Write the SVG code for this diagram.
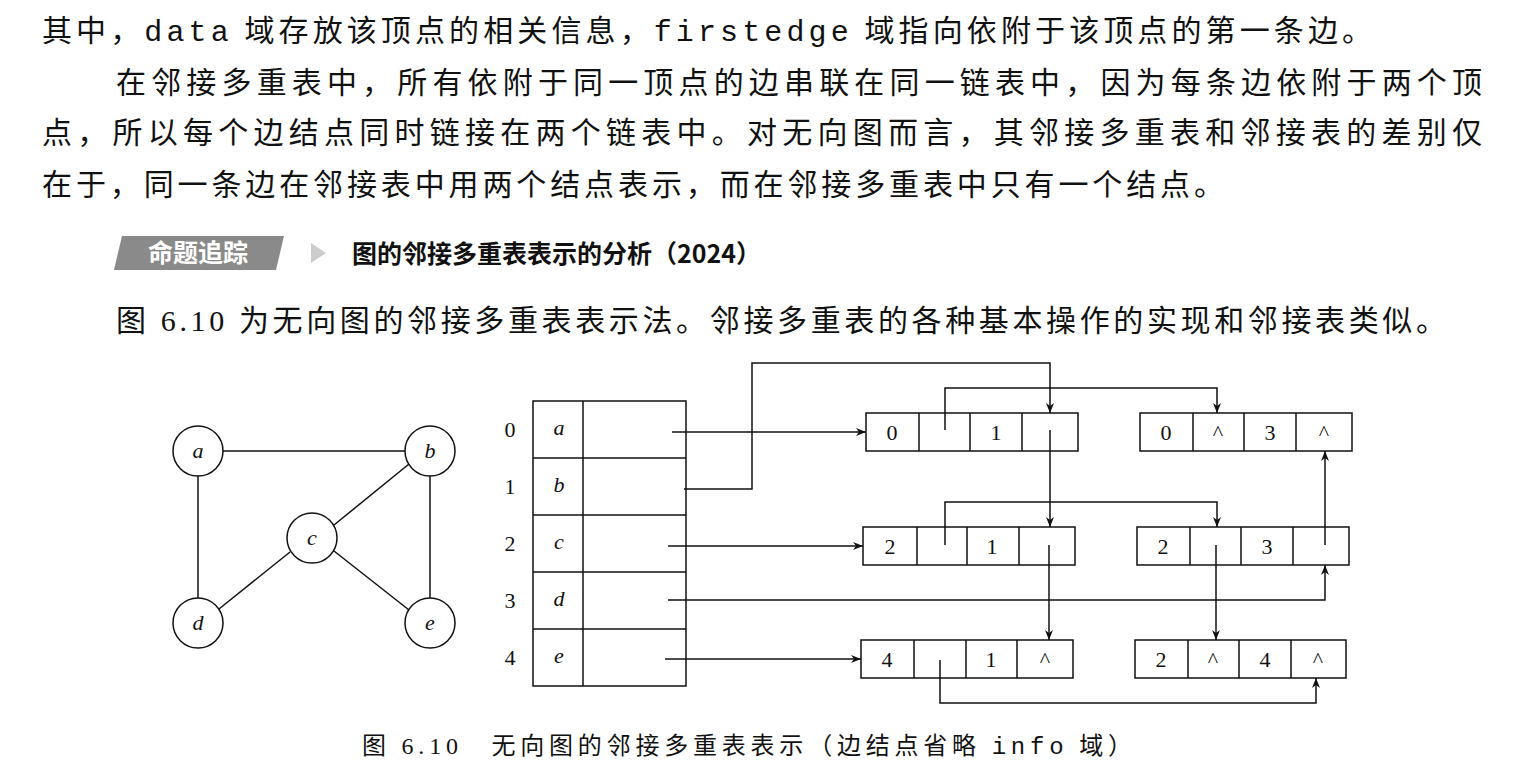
<svg xmlns="http://www.w3.org/2000/svg" width="1525" height="772" viewBox="0 0 1525 772">
<style>
.t{font-family:"Liberation Serif","Noto Sans CJK SC",serif;font-size:30px;fill:#111}
.m{font-family:"Liberation Mono",monospace}
.h{font-family:"Noto Sans CJK SC",sans-serif;font-size:25px;fill:#111}
.c{font-family:"Liberation Serif","Noto Sans CJK SC",serif;font-size:24px;fill:#111}
.n{font-family:"Liberation Serif",serif;font-size:22px;fill:#111;text-anchor:middle}
.i{font-style:italic}
.b{fill:#fff;stroke:#111;stroke-width:1.5}
.l{fill:none;stroke:#111;stroke-width:1.5}
</style>
<defs><marker id="ar" markerWidth="10" markerHeight="8" refX="10" refY="4" orient="auto" markerUnits="userSpaceOnUse"><path d="M0,0 L10,4 L0,8 L3,4z" fill="#111"/></marker></defs>
<text class="t" x="42" y="41" textLength="1330">其中，<tspan class="m">data</tspan> 域存放该顶点的相关信息，<tspan class="m">firstedge</tspan> 域指向依附于该顶点的第一条边。</text>
<text class="t" x="116" y="93" textLength="1366">在邻接多重表中，所有依附于同一顶点的边串联在同一链表中，因为每条边依附于两个顶</text>
<text class="t" x="42" y="143" textLength="1440">点，所以每个边结点同时链接在两个链表中。对无向图而言，其邻接多重表和邻接表的差别仅</text>
<text class="t" x="42" y="195" textLength="1182">在于，同一条边在邻接表中用两个结点表示，而在邻接多重表中只有一个结点。</text>
<g id="tag"><path d="M122,236 L284,236 L276,270 L114,270 Z" fill="#8a8a8a"/>
<text x="198" y="262" font-family="Noto Sans CJK SC,sans-serif" font-size="25" font-weight="bold" fill="#fff" text-anchor="middle">命题追踪</text>
<path d="M311,243 L326,253 L311,263 Z" fill="#ccc"/></g>
<text class="h" x="352" y="263" font-weight="bold">图的邻接多重表表示的分析（2024）</text>
<text class="t" x="116" y="331" textLength="1330">图 6.10 为无向图的邻接多重表表示法。邻接多重表的各种基本操作的实现和邻接表类似。</text>
<g id="graph">
<g class="l"><line x1="223" y1="451" x2="405" y2="451"/><line x1="198" y1="476" x2="198" y2="598"/><line x1="430" y1="476" x2="430" y2="598"/><line x1="334" y1="525" x2="409" y2="464"/><line x1="290" y1="552" x2="219" y2="609"/><line x1="334" y1="551" x2="409" y2="610"/></g>
<g id="va"><circle class="b" cx="198" cy="451" r="25"/><text class="n i" x="198" y="458">a</text></g>
<g id="vb"><circle class="b" cx="430" cy="451" r="25"/><text class="n i" x="430" y="458">b</text></g>
<g id="vc"><circle class="b" cx="312" cy="538" r="25"/><text class="n i" x="312" y="545">c</text></g>
<g id="vd"><circle class="b" cx="198" cy="623" r="25"/><text class="n i" x="198" y="630">d</text></g>
<g id="ve"><circle class="b" cx="430" cy="623" r="25"/><text class="n i" x="430" y="630">e</text></g>
</g>
<g id="table">
<rect class="b" x="533" y="401" width="153" height="285"/>
<g class="l"><line x1="583" y1="401" x2="583" y2="686"/><line x1="533" y1="458" x2="686" y2="458"/><line x1="533" y1="515" x2="686" y2="515"/><line x1="533" y1="572" x2="686" y2="572"/><line x1="533" y1="629" x2="686" y2="629"/></g>
<text class="n" x="510" y="437">0</text><text class="n" x="510" y="494">1</text><text class="n" x="510" y="551">2</text><text class="n" x="510" y="608">3</text><text class="n" x="510" y="665">4</text>
<text class="n i" x="559" y="435">a</text><text class="n i" x="559" y="492">b</text><text class="n i" x="559" y="549">c</text><text class="n i" x="559" y="606">d</text><text class="n i" x="559" y="663">e</text>
</g>
<g id="e00"><rect class="b" x="866" y="413" width="212" height="38"/><path class="l" d="M919,413V451M970,413V451M1022,413V451"/><text class="n" x="892" y="440">0</text><text class="n" x="996" y="440">1</text></g>
<g id="e03"><rect class="b" x="1140" y="413" width="212" height="38"/><path class="l" d="M1193,413V451M1244,413V451M1296,413V451"/><text class="n" x="1166" y="440">0</text><text class="n" x="1218" y="440">^</text><text class="n" x="1270" y="440">3</text><text class="n" x="1324" y="440">^</text></g>
<g id="e21"><rect class="b" x="863" y="527" width="212" height="38"/><path class="l" d="M917,527V565M967,527V565M1019,527V565"/><text class="n" x="890" y="554">2</text><text class="n" x="992" y="554">1</text></g>
<g id="e23"><rect class="b" x="1137" y="527" width="212" height="38"/><path class="l" d="M1190,527V565M1241,527V565M1293,527V565"/><text class="n" x="1163" y="554">2</text><text class="n" x="1267" y="554">3</text></g>
<g id="e41"><rect class="b" x="861" y="640" width="212" height="38"/><path class="l" d="M914,640V678M966,640V678M1017,640V678"/><text class="n" x="887" y="667">4</text><text class="n" x="991" y="667">1</text><text class="n" x="1045" y="667">^</text></g>
<g id="e24"><rect class="b" x="1135" y="640" width="211" height="38"/><path class="l" d="M1188,640V678M1239,640V678M1291,640V678"/><text class="n" x="1161" y="667">2</text><text class="n" x="1213" y="667">^</text><text class="n" x="1265" y="667">4</text><text class="n" x="1318" y="667">^</text></g>
<g id="connectors" class="l" marker-end="url(#ar)">
<path d="M672,432H866"/><path d="M668,546H863"/><path d="M665,659H861"/>
<path d="M684,489H752V363H1050V413"/>
<path d="M945,430V388H1217V413"/>
<path d="M1050,430V527"/>
<path d="M945,545V502H1217V527"/>
<path d="M1049,545V640"/>
<path d="M1216,545V640"/>
<path d="M1325,545V451"/>
<path d="M668,600H1325V565"/>
<path d="M940,660V703H1316V678"/>
</g>
<text class="c" x="362" y="754" textLength="770">图 6.10　无向图的邻接多重表表示（边结点省略 <tspan class="m">info</tspan> 域）</text>
</svg>
